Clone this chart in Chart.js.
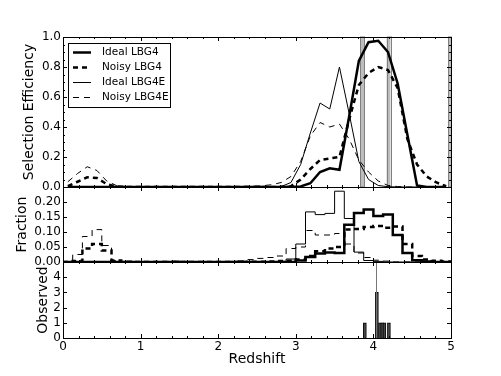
<!DOCTYPE html>
<html>
<head>
<meta charset="utf-8">
<script src="https://cdn.jsdelivr.net/npm/chart.js@4"></script>
<style>
  html, body { margin: 0; padding: 0; background: #fff; }
  #wrap { position: relative; width: 501px; height: 376px; }
  canvas { position: absolute; left: 0; }
</style>
</head>
<body>
<div id="wrap">
  <canvas id="eff" width="501" height="200" style="top:0;width:501px;height:200px"></canvas>
  <canvas id="frac" width="501" height="100" style="top:175px;width:501px;height:100px"></canvas>
  <canvas id="obs" width="501" height="126" style="top:250px;width:501px;height:126px"></canvas>
</div>
<script>
// redshift bins (edges)
const binEdges = [0, 0.125, 0.25, 0.375, 0.5, 0.625, 0.75, 0.875, 1, 1.125, 1.25, 1.375, 1.5, 1.625, 1.75, 1.875,
    2, 2.125, 2.25, 2.375, 2.5, 2.625, 2.75, 2.875, 3, 3.125, 3.25, 3.375, 3.5, 3.625, 3.75, 3.875,
    4, 4.125, 4.25, 4.375, 4.5, 4.625, 4.75, 4.875, 5];

// selection efficiency per bin
const effIdeal4 = [0, 0, 0, 0, 0, 0, 0, 0, 0, 0,
    0, 0, 0, 0, 0, 0, 0, 0, 0, 0,
    0, 0, 0, 0.002, 0.004, 0.025, 0.10, 0.125, 0.115, 0.47,
    0.84, 0.965, 0.975, 0.90, 0.69, 0.35, 0.01, 0, 0, 0];
const effNoisy4 = [0.005, 0.035, 0.065, 0.06, 0.02, 0.003, 0, 0, 0, 0,
    0, 0, 0, 0, 0, 0, 0, 0, 0, 0,
    0, 0, 0.001, 0.005, 0.05, 0.12, 0.18, 0.19, 0.20, 0.45,
    0.68, 0.76, 0.80, 0.78, 0.66, 0.32, 0.15, 0.07, 0.03, 0.005];
const effIdeal4E = [0, 0, 0, 0, 0, 0, 0, 0, 0, 0,
    0, 0, 0, 0, 0, 0, 0, 0, 0, 0,
    0, 0, 0.003, 0.03, 0.15, 0.36, 0.56, 0.52, 0.80, 0.49,
    0.17, 0.05, 0.01, 0.002, 0, 0, 0, 0, 0, 0];
const effNoisy4E = [0.035, 0.09, 0.135, 0.11, 0.04, 0.01, 0.003, 0.002, 0.002, 0.002,
    0.002, 0.002, 0.002, 0.002, 0.002, 0.002, 0.002, 0.003, 0.004, 0.005,
    0.008, 0.015, 0.03, 0.07, 0.17, 0.34, 0.43, 0.40, 0.42, 0.32,
    0.18, 0.10, 0.04, 0.01, 0.003, 0, 0, 0, 0, 0];

// fraction histograms per bin
const fracIdeal4 = [0, 0, 0, 0, 0, 0, 0, 0, 0, 0,
    0, 0, 0, 0, 0, 0, 0, 0, 0, 0,
    0, 0, 0, 0, 0.005, 0.017, 0.028, 0.032, 0.03, 0.124,
    0.163, 0.175, 0.153, 0.158, 0.09, 0.03, 0.006, 0.002, 0, 0];
const fracNoisy4 = [0, 0.003, 0.045, 0.06, 0.038, 0.005, 0.001, 0, 0, 0,
    0, 0, 0, 0, 0, 0, 0, 0, 0, 0.001,
    0.001, 0.002, 0.003, 0.004, 0.008, 0.02, 0.036, 0.045, 0.05, 0.108,
    0.11, 0.117, 0.12, 0.114, 0.118, 0.06, 0.02, 0.008, 0.004, 0.002];
const fracIdeal4E = [0, 0, 0, 0, 0, 0, 0, 0, 0, 0,
    0, 0, 0, 0, 0, 0, 0, 0, 0, 0,
    0, 0, 0.002, 0.01, 0.06, 0.167, 0.158, 0.162, 0.236, 0.145,
    0.033, 0.005, 0.002, 0, 0, 0, 0, 0, 0, 0];
const fracNoisy4E = [0, 0.025, 0.085, 0.108, 0.055, 0.005, 0.002, 0, 0, 0,
    0.002, 0.003, 0.002, 0.001, 0.001, 0.001, 0.001, 0.002, 0.004, 0.008,
    0.012, 0.015, 0.02, 0.045, 0.05, 0.105, 0.09, 0.09, 0.095, 0.06,
    0.03, 0.015, 0.006, 0.003, 0, 0, 0, 0, 0, 0];

// observed objects
const obsRedshift = [3.89, 4.045, 4.085, 4.113, 4.142, 4.20];
const obsCount = [1, 3, 1, 1, 1, 1];
const specRedshift = [4.04];

// shaded redshift windows in the top panel
const shadedWindows = [[3.83, 3.88], [4.17, 4.22], [4.965, 5.0]];

const xMajorTicks = [0, 1, 2, 3, 4, 5];
const xMinorTicks = [0.2, 0.4, 0.6, 0.8, 1.2, 1.4, 1.6, 1.8, 2.2, 2.4, 2.6, 2.8, 3.2, 3.4, 3.6, 3.8, 4.2, 4.4, 4.6, 4.8];
const effTicks = [0, 0.2, 0.4, 0.6, 0.8, 1.0];
const effMinorTicks = [0.05, 0.1, 0.15, 0.25, 0.3, 0.35, 0.45, 0.5, 0.55, 0.65, 0.7, 0.75, 0.85, 0.9, 0.95];
const fracTicks = [0, 0.05, 0.1, 0.15, 0.2, 0.25];
const obsTicks = [0, 1, 2, 3, 4, 5];

Chart.defaults.font.family = '"DejaVu Sans", sans-serif';
Chart.defaults.color = '#000';

const centers = binEdges.slice(0, -1).map((e, i) => (e + binEdges[i + 1]) / 2);
const asLine = vals => vals.map((v, i) => ({x: centers[i], y: v}));
const asSteps = vals => vals.map((v, i) => ({x: binEdges[i], y: v})).concat([{x: binEdges[binEdges.length - 1], y: vals[vals.length - 1]}]);

// frame + inward ticks, matplotlib look
const frameTicks = {
    id: 'frameTicks',
    afterDatasetsDraw(chart, args, opts) {
        const {ctx, chartArea: a} = chart;
        const x = chart.scales.x, y = chart.scales.y;
        ctx.save();
        ctx.strokeStyle = '#000';
        ctx.lineWidth = 1;
        ctx.beginPath();
        const xt = (vals, len) => (vals || []).forEach(v => {
            const p = Math.round(x.getPixelForValue(v)) + 0.5;
            ctx.moveTo(p, a.bottom); ctx.lineTo(p, a.bottom - len);
            ctx.moveTo(p, a.top); ctx.lineTo(p, a.top + len);
        });
        const yt = (vals, len) => (vals || []).forEach(v => {
            const p = Math.round(y.getPixelForValue(v)) + 0.5;
            ctx.moveTo(a.left, p); ctx.lineTo(a.left + len, p);
            ctx.moveTo(a.right, p); ctx.lineTo(a.right - len, p);
        });
        xt(opts.xMajor, 4);
        xt(opts.xMinor, 2);
        yt(opts.yMajor, 4);
        yt(opts.yMinor, 2);
        ctx.stroke();
        ctx.strokeRect(a.left + 0.5, a.top + 0.5, a.right - a.left, a.bottom - a.top);
        ctx.restore();
    }
};

const shading = {
    id: 'shading',
    beforeDatasetsDraw(chart) {
        const {ctx, chartArea: a} = chart;
        const x = chart.scales.x;
        ctx.save();
        shadedWindows.forEach(w => {
            const x0 = x.getPixelForValue(w[0]), x1 = x.getPixelForValue(w[1]);
            ctx.fillStyle = '#bdbdbd';
            ctx.fillRect(x0, a.top, x1 - x0, a.bottom - a.top);
            ctx.strokeStyle = '#808080';
            ctx.lineWidth = 1;
            ctx.strokeRect(Math.round(x0) + 0.5, a.top, Math.round(x1 - x0), a.bottom - a.top);
        });
        ctx.restore();
    }
};

const boxLegend = {
    id: 'boxLegend',
    afterDraw(chart) {
        const {ctx, chartArea: a} = chart;
        const left = a.left + 5, top = a.top + 6;
        ctx.save();
        ctx.fillStyle = '#fff';
        ctx.fillRect(left, top, 103, 64);
        ctx.strokeStyle = '#000';
        ctx.lineWidth = 1;
        ctx.strokeRect(left + 0.5, top + 0.5, 102, 64);
        ctx.font = '10.5px "DejaVu Sans"';
        ctx.textBaseline = 'middle';
        ctx.fillStyle = '#000';
        chart.data.datasets.forEach((ds, i) => {
            const ly = Math.round(a.top + 15 + i * 15) + 0.5;
            ctx.beginPath();
            ctx.lineWidth = ds.borderWidth;
            ctx.setLineDash(ds.borderDash || []);
            ctx.moveTo(left + 5, ly);
            ctx.lineTo(left + 23, ly);
            ctx.stroke();
            ctx.setLineDash([]);
            ctx.fillText(ds.label, left + 34, ly);
        });
        ctx.restore();
    }
};

function lineSet(label, data, thick, dashed) {
    return {
        label: label,
        data: data,
        borderColor: '#000',
        borderWidth: thick ? 2.5 : 1,
        borderDash: dashed ? (thick ? [5, 4] : [6, 5]) : [],
        pointRadius: 0,
        tension: 0,
        fill: false
    };
}

function yAxis(min, max, step, title, padLeftWidth, fmt) {
    return {
        min: min, max: max,
        ticks: {stepSize: step, autoSkip: false, padding: 2, font: {size: 12}, callback: fmt},
        grid: {display: false, drawTicks: false},
        border: {display: false},
        title: {display: true, text: title, font: {size: 14}},
        afterFit: s => { s.width = padLeftWidth; }
    };
}

const hiddenX = {type: 'linear', min: 0, max: 5, display: false};

// top: selection efficiency
new Chart(document.getElementById('eff'), {
    type: 'line',
    data: {
        datasets: [
            lineSet('Ideal LBG4', asLine(effIdeal4), true, false),
            lineSet('Noisy LBG4', asLine(effNoisy4), true, true),
            lineSet('Ideal LBG4E', asLine(effIdeal4E), false, false),
            lineSet('Noisy LBG4E', asLine(effNoisy4E), false, true)
        ]
    },
    options: {
        responsive: false,
        animation: false,
        layout: {padding: {top: 37, bottom: 13, left: 17, right: 50}},
        scales: {
            x: hiddenX,
            y: yAxis(0, 1, 0.2, 'Selection Efficiency', 46, v => v.toFixed(1))
        },
        plugins: {
            legend: {display: false},
            tooltip: {enabled: false},
            frameTicks: {xMajor: xMajorTicks, xMinor: xMinorTicks, yMajor: effTicks, yMinor: effMinorTicks}
        }
    },
    plugins: [shading, frameTicks, boxLegend]
});

// middle: fraction histograms
const stepSet = (label, vals, thick, dashed) => Object.assign(lineSet(label, asSteps(vals), thick, dashed), {stepped: true});
new Chart(document.getElementById('frac'), {
    type: 'line',
    data: {
        datasets: [
            stepSet('Ideal LBG4', fracIdeal4, true, false),
            stepSet('Noisy LBG4', fracNoisy4, true, true),
            stepSet('Ideal LBG4E', fracIdeal4E, false, false),
            stepSet('Noisy LBG4E', fracNoisy4E, false, true)
        ]
    },
    options: {
        responsive: false,
        animation: false,
        layout: {padding: {top: 12, bottom: 13, left: 10, right: 50}},
        scales: {
            x: hiddenX,
            y: yAxis(0, 0.25, 0.05, 'Fraction', 53, v => v > 0.21 ? '' : v.toFixed(2))
        },
        plugins: {
            legend: {display: false},
            tooltip: {enabled: false},
            frameTicks: {xMajor: xMajorTicks, xMinor: xMinorTicks, yMajor: fracTicks}
        }
    },
    plugins: [frameTicks]
});

// bottom: observed
new Chart(document.getElementById('obs'), {
    type: 'bar',
    data: {
        datasets: [
            {
                type: 'line',
                data: [{x: specRedshift[0], y: 0}, {x: specRedshift[0], y: 5}],
                borderColor: '#777',
                borderWidth: 1,
                pointRadius: 0
            },
            {
                data: obsRedshift.map((z, i) => ({x: z, y: obsCount[i]})),
                backgroundColor: '#484848',
                borderColor: '#000',
                borderWidth: 1,
                barThickness: 3
            }
        ]
    },
    options: {
        responsive: false,
        animation: false,
        layout: {padding: {top: 12, bottom: 4, left: 31, right: 50}},
        scales: {
            x: {
                type: 'linear', min: 0, max: 5, offset: false,
                ticks: {stepSize: 1, autoSkip: false, padding: 2, font: {size: 12}},
                grid: {display: false, drawTicks: false},
                border: {display: false},
                title: {display: true, text: 'Redshift', font: {size: 14}},
                afterFit: s => { s.height = 34; }
            },
            y: yAxis(0, 5, 1, 'Observed', 32, v => v >= 5 ? '' : String(v))
        },
        plugins: {
            legend: {display: false},
            tooltip: {enabled: false},
            frameTicks: {xMajor: xMajorTicks, xMinor: xMinorTicks, yMajor: obsTicks}
        }
    },
    plugins: [frameTicks]
});
</script>
</body>
</html>
